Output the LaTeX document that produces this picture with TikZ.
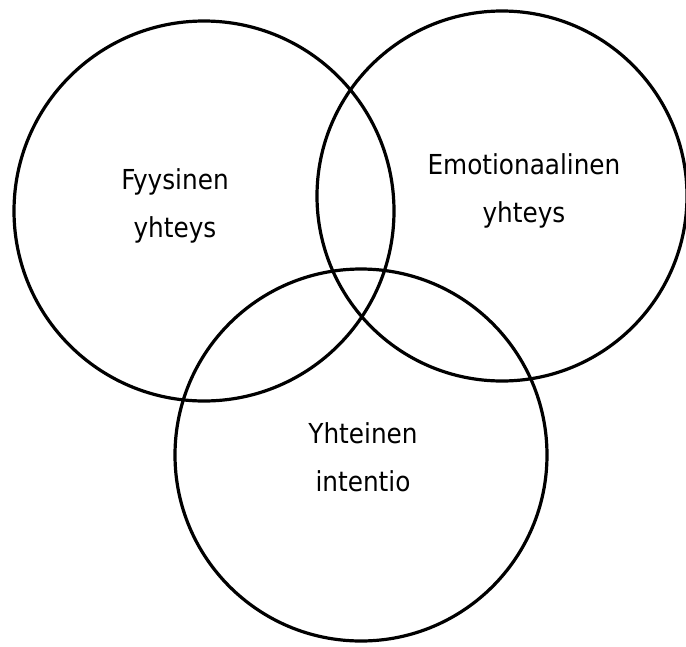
\documentclass[tikz,border=0pt]{standalone}
\usepackage{fontspec}
\setmainfont{DejaVu Sans Condensed}
\begin{document}
\begin{tikzpicture}[x=1pt,y=-1pt,
  ring/.style={draw=black,line width=3.2pt,circle,inner sep=0pt},
  lbl/.style={align=center,inner sep=0pt,font=\fontsize{27.5}{48}\selectfont}]
\useasboundingbox (0,0) rectangle (686,646);
\node[ring,minimum size=380pt] (c1) at (204,211) {};
\node[ring,minimum size=370pt] (c2) at (502,196) {};
\node[ring,minimum size=372pt] (c3) at (361,455) {};
\node[lbl,anchor=base] (t1) at (175,237) {Fyysinen\\yhteys};
\node[lbl,anchor=base] (t2) at (524,222) {Emotionaalinen\\yhteys};
\node[lbl,anchor=base] (t3) at (363,491) {Yhteinen\\intentio};
\end{tikzpicture}
\end{document}
